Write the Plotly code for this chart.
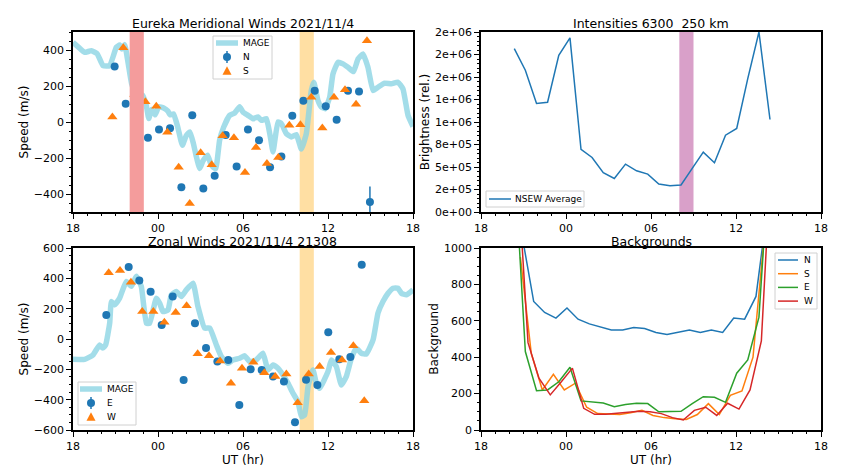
import plotly.graph_objects as go

# ---------------- data ----------------
# x positions in hours relative to 00 UT 2021/11/4 (-6 == 18 UT previous day)
XTICK_VALS = [-6, 0, 6, 12, 18]
XTICK_TEXT = ["18", "00", "06", "12", "18"]

# MAGE model meridional wind
mage_mer_t = [-6.0, -5.6, -5.18, -4.7, -4.3, -3.88, -3.41, -2.94, -2.7, -2.55, -2.35, -2.1, -1.86, -1.6,
              -1.39, -1.1, -0.85, -0.65, -0.45, -0.2, 0.05, 0.4, 0.7, 0.85, 1.1, 1.4, 1.72, 2.0, 2.25,
              2.5, 2.71, 2.94, 3.18, 3.5, 3.76, 4.07, 4.35, 4.64, 5.06, 5.41, 5.76, 6.0, 6.35, 6.71,
              7.06, 7.3, 7.65, 7.93, 8.12, 8.47, 8.71, 9.06, 9.41, 9.76, 10.12, 10.47, 10.82, 11.0,
              11.29, 11.53, 11.8, 12.12, 12.35, 12.71, 13.06, 13.41, 13.8, 14.12, 14.47, 14.82, 15.18,
              15.53, 16.0, 16.47, 16.94, 17.29, 17.65, 18.0]
mage_mer_v = [442, 415, 387, 396, 380, 313, 313, 415, 428, 405, 430, 323, 212, 160,
              147, 150, 100, 20, 70, 40, 85, 78, 60, 40, 45, -30, -129, -75, -55,
              -120, -194, -258, -215, -184, -240, -260, -101, -28, 37, 50, 85, 55, 37, 18,
              28, 9, 18, -83, -166, 0, -9, -65, -83, -70, -150, -65, 175, 221,
              120, 83, 74, 138, 267, 332, 323, 304, 280, 350, 378, 304, 175,
              193, 216, 212, 221, 184, 37, -25]

# Meridional winds: N and S
n_t = [-3.06, -2.28, -1.51, -0.71, 0.07, 0.85, 1.65, 2.42, 3.2, 4.0, 4.78, 5.55, 6.35, 7.13, 7.91,
       8.71, 9.48, 10.26, 11.06, 11.84, 12.61, 13.41, 14.19, 14.96]
n_v = [308, 101, 50, -87, -42, -35, -363, 37, -369, -299, -72, -247, -41, -101, -251,
       -192, 35, 118, 173, 87, 13, 173, 170, -444]
n_err = [15, 15, 15, 15, 15, 15, 15, 15, 15, 15, 15, 15, 15, 15, 15,
         15, 15, 15, 15, 15, 15, 15, 15, 85]
s_t = [-3.22, -2.45, -1.67, -0.89, -0.12, 0.66, 1.46, 2.24, 3.01, 3.79, 4.56, 5.36, 6.14, 6.92, 7.69,
       8.49, 9.27, 10.05, 10.82, 11.6, 12.42, 13.2, 13.98, 14.75]
s_v = [28, 413, 153, 112, 87, -57, -252, -453, -171, -238, -76, -87, -280, -142, -230,
       -197, -18, -15, 138, -33, 138, 179, 98, 452]

# MAGE model zonal wind
mage_zon_t = [-6.0, -5.18, -4.59, -4.12, -3.9, -3.7, -3.41, -3.29, -3.06, -2.71, -2.24, -1.88, -1.53,
              -1.18, -0.82, -0.59, -0.12, 0.12, 0.35, 0.71, 0.94, 1.29, 1.65, 2.0, 2.47, 2.82, 3.29,
              3.65, 4.12, 4.47, 4.94, 5.29, 5.76, 6.12, 6.47, 6.9, 7.41, 7.76, 8.12, 8.47, 8.82,
              9.18, 9.53, 9.88, 10.12, 10.35, 10.59, 10.94, 11.18, 11.41, 12.0, 12.24, 12.59, 12.94,
              13.29, 13.65, 14.0, 14.35, 14.7, 15.18, 15.53, 15.88, 16.24, 16.59, 16.94, 17.18,
              17.53, 18.0]
mage_zon_v = [-134, -134, -105, -39, -60, -40, 104, 247, 225, 269, 379, 347, 413,
              347, 104, 104, 269, 236, 181, 192, 291, 313, 280, 324, 368, 214, 72,
              72, -39, -116, -160, -138, -127, -111, -149, -140, -94, -204, -171, -193, -237,
              -292, -358, -413, -512, -501, -314, -204, -292, -325, -215, -138, -182, -303,
              -248, -127, -61, -94, -99, -6, 171, 247, 302, 335, 335, 302,
              291, 324]

# Zonal winds: E and W
e_t = [-3.65, -2.07, -1.32, -0.52, 0.26, 1.04, 1.81, 2.61, 3.39, 4.19, 4.96, 5.74, 6.54, 7.32, 8.12,
       8.89, 9.67, 10.45, 11.25, 12.02, 12.8, 13.58, 14.38]
e_v = [159, 474, 386, 311, 93, 280, -270, 104, -59, -149, -138, -435, -199, -204, -248,
       -281, -549, -268, -303, 45, -133, -118, 490]
e_err = [15] * 23
w_t = [-3.48, -2.68, -1.91, -1.11, -0.33, 0.45, 1.25, 2.02, 2.80, 3.6, 4.38, 5.15, 5.93, 6.73, 7.51,
       8.28, 9.06, 9.86, 10.64, 11.41, 12.21, 12.99, 13.79, 14.56]
w_v = [436, 451, 374, 182, 182, 111, 175, 219, -98, -111, -145, -292, -193, -154, -222,
       -248, -231, -420, -231, -182, -89, -138, -45, -407]

# Intensities 6300, NSEW average (also the E-direction exposure times)
avg_t = [-3.65, -2.87, -2.08, -1.3, -0.51, 0.28, 1.06, 1.84, 2.63, 3.41, 4.2, 4.98, 5.77, 6.55,
         7.34, 8.12, 8.91, 9.69, 10.48, 11.26, 12.05, 12.83, 13.62, 14.4]
avg_v = [1815000, 1575000, 1205000, 1220000, 1741000, 1934000, 695000, 606000, 436000, 373000,
         532000, 458000, 421000, 311000, 292000, 300000, 484000, 665000, 547000, 854000, 928000,
         1482000, 2000000, 1028000]
BRIGHT_TICKS = [0, 250000, 500000, 750000, 1000000, 1250000, 1500000, 1750000, 2000000]
BRIGHT_LABELS = ["0e+00", "2e+05", "5e+05", "8e+05", "1e+06", "1e+06", "2e+06", "2e+06", "2e+06"]

# Backgrounds
bg_n = [1050, 706, 646, 615, 670, 609, 583, 565, 550, 550, 563, 558, 536, 525, 538,
        550, 536, 550, 536, 615, 609, 734, 1200, 2000]
bg_s = [950, 420, 220, 306, 220, 257, 125, 90, 88, 85, 95, 108, 80, 68, 62,
        58, 85, 145, 85, 190, 215, 400, 1050, 2500]
bg_e = [1500, 431, 216, 220, 265, 345, 160, 155, 148, 128, 140, 147, 145, 100, 102,
        103, 145, 183, 180, 152, 312, 385, 620, 1550]
bg_w = [1500, 480, 285, 193, 265, 340, 119, 86, 86, 90, 98, 103, 100, 90, 68,
        55, 108, 125, 80, 147, 115, 220, 490, 1620]

# shaded time windows (hours)
red_band = [-2.0, -1.0]
orange_band = [10.0, 11.0]
pink_band = [8.0, 9.0]

# ---------------- figure ----------------
W, H = 848, 474
BLUE, ORANGE, GREEN, RED = "#1f77b4", "#ff7f0e", "#2ca02c", "#d62728"
MAGE_COLOR = "rgba(140,212,228,0.8)"
FONT = "DejaVu Sans"


def px_x(a, b):
    return [a / W, b / W]


def px_y(top, bottom):
    return [1 - bottom / H, 1 - top / H]


fig = go.Figure()

# --- top-left: meridional
fig.add_trace(go.Scatter(x=mage_mer_t, y=mage_mer_v, mode="lines", name="MAGE",
                         line=dict(color=MAGE_COLOR, width=5.5, shape="spline", smoothing=0.4),
                         xaxis="x", yaxis="y"))
fig.add_trace(go.Scatter(x=n_t, y=n_v, mode="markers", name="N",
                         marker=dict(color=BLUE, size=8, symbol="circle"),
                         error_y=dict(type="data", array=n_err, color=BLUE, thickness=1.5, width=0),
                         xaxis="x", yaxis="y"))
fig.add_trace(go.Scatter(x=s_t, y=s_v, mode="markers", name="S",
                         marker=dict(color=ORANGE, size=9, symbol="triangle-up"),
                         xaxis="x", yaxis="y"))

# --- top-right: intensities
fig.add_trace(go.Scatter(x=avg_t, y=avg_v, mode="lines", name="NSEW Average",
                         line=dict(color=BLUE, width=1.5),
                         xaxis="x2", yaxis="y2"))

# --- bottom-left: zonal
fig.add_trace(go.Scatter(x=mage_zon_t, y=mage_zon_v, mode="lines", name="MAGE",
                         line=dict(color=MAGE_COLOR, width=5.5, shape="spline", smoothing=0.4),
                         xaxis="x3", yaxis="y3"))
fig.add_trace(go.Scatter(x=e_t, y=e_v, mode="markers", name="E",
                         marker=dict(color=BLUE, size=8, symbol="circle"),
                         error_y=dict(type="data", array=e_err, color=BLUE, thickness=1.5, width=0),
                         xaxis="x3", yaxis="y3"))
fig.add_trace(go.Scatter(x=w_t, y=w_v, mode="markers", name="W",
                         marker=dict(color=ORANGE, size=9, symbol="triangle-up"),
                         xaxis="x3", yaxis="y3"))

# --- bottom-right: backgrounds
for name, t, v, c in [("N", n_t, bg_n, BLUE), ("S", s_t, bg_s, ORANGE),
                      ("E", avg_t, bg_e, GREEN), ("W", w_t, bg_w, RED)]:
    fig.add_trace(go.Scatter(x=t, y=v, mode="lines", name=name,
                             line=dict(color=c, width=1.5),
                             xaxis="x4", yaxis="y4"))

# shaded bands
fig.add_shape(type="rect", xref="x", yref="y domain", x0=red_band[0], x1=red_band[1], y0=0, y1=1,
              fillcolor="#f49c9c", line_width=0, layer="above")
fig.add_shape(type="rect", xref="x", yref="y domain", x0=orange_band[0], x1=orange_band[1], y0=0, y1=1,
              fillcolor="rgba(255,165,0,0.36)", line_width=0, layer="below")
fig.add_shape(type="rect", xref="x3", yref="y3 domain", x0=orange_band[0], x1=orange_band[1], y0=0, y1=1,
              fillcolor="rgba(255,165,0,0.36)", line_width=0, layer="below")
fig.add_shape(type="rect", xref="x2", yref="y2 domain", x0=pink_band[0], x1=pink_band[1], y0=0, y1=1,
              fillcolor="#d9a0c9", line_width=0, layer="below")

tickfont = dict(family=FONT, size=11, color="black")
titlefont = dict(family=FONT, size=12, color="black")


def xaxis(dom, anchor, title=None):
    d = dict(domain=dom, anchor=anchor, range=[-6, 18], tickvals=XTICK_VALS, ticktext=XTICK_TEXT,
             showline=True, linecolor="black", linewidth=1.5, mirror=True, automargin=False,
             ticks="outside", ticklen=5, tickwidth=1.2, tickcolor="black",
             minor=dict(dtick=1, tick0=0, ticks="outside", ticklen=2.5, tickcolor="black", tickwidth=1),
             showgrid=False, zeroline=False, tickfont=tickfont)
    if title:
        d["title"] = dict(text=title, font=titlefont, standoff=4)
    return d


def yaxis(dom, anchor, rng, title, dtick=None, minor=50, tickvals=None, ticktext=None):
    d = dict(domain=dom, anchor=anchor, range=rng,
             showline=True, linecolor="black", linewidth=1.5, mirror=True, automargin=False,
             ticks="outside", ticklen=5, tickwidth=1.2, tickcolor="black",
             minor=dict(dtick=minor, tick0=0, ticks="outside", ticklen=2.5, tickcolor="black", tickwidth=1),
             showgrid=False, zeroline=False, tickfont=tickfont,
             title=dict(text=title, font=titlefont, standoff=3))
    if tickvals is not None:
        d["tickvals"] = tickvals
        d["ticktext"] = ticktext
    else:
        d["dtick"] = dtick
        d["tick0"] = 0
    return d


XL = px_x(73, 413)
XR = px_x(481, 821)
YT = px_y(32, 212)
YB = px_y(248, 430)

fig.update_layout(
    width=W, height=H, margin=dict(l=0, r=0, t=0, b=0, autoexpand=False),
    paper_bgcolor="white", plot_bgcolor="white",
    font=dict(family=FONT, color="black"),
    xaxis=xaxis(XL, "y"),
    yaxis=yaxis(YT, "x", [-500, 500], "Speed (m/s)", dtick=200),
    xaxis2=xaxis(XR, "y2"),
    yaxis2=yaxis(YT, "x2", [0, 2000000], "Brightness (rel.)", minor=50000,
                 tickvals=BRIGHT_TICKS, ticktext=BRIGHT_LABELS),
    xaxis3=xaxis(XL, "y3", "UT (hr)"),
    yaxis3=yaxis(YB, "x3", [-600, 600], "Speed (m/s)", dtick=200),
    xaxis4=xaxis(XR, "y4", "UT (hr)"),
    yaxis4=yaxis(YB, "x4", [0, 1000], "Background", dtick=200),
    showlegend=False,
)

titles = [("Eureka Meridional Winds 2021/11/4", (73 + 413) / 2, 32, 0),
          ("Intensities 6300  250 km", (481 + 821) / 2, 32, 0),
          ("Zonal Winds 2021/11/4 21308", (73 + 413) / 2, 248, -2),
          ("Backgrounds", (481 + 821) / 2, 248, -2)]
for text, cx, top, ys in titles:
    fig.add_annotation(text=text, x=cx / W, y=1 - top / H, xref="paper", yref="paper",
                       xanchor="center", yanchor="bottom", yshift=ys, borderpad=0, showarrow=False,
                       font=dict(family=FONT, size=12.5, color="black"))

# ---------------- legends (drawn in pixel coordinates of the page) ----------------
LEG_FONT = dict(family=FONT, size=9, color="black")


def leg_box(x0, y0, x1, y1):
    fig.add_shape(type="rect", xref="paper", yref="paper", x0=x0 / W, x1=x1 / W,
                  y0=1 - y1 / H, y1=1 - y0 / H, fillcolor="rgba(255,255,255,0.85)",
                  line=dict(color="#d0d0d0", width=1), layer="above")


def leg_line(x0, x1, y, color, width):
    fig.add_shape(type="line", xref="paper", yref="paper", x0=x0 / W, x1=x1 / W,
                  y0=1 - y / H, y1=1 - y / H, line=dict(color=color, width=width), layer="above")


def leg_text(x, y, text):
    fig.add_annotation(text=text, x=x / W, y=1 - y / H, xref="paper", yref="paper",
                       xanchor="left", yanchor="middle", showarrow=False, font=LEG_FONT)


def leg_marker(x, y, kind, color):
    if kind == "circle":
        fig.add_shape(type="line", xref="paper", yref="paper", x0=x / W, x1=x / W,
                      y0=1 - (y + 6) / H, y1=1 - (y - 6) / H, line=dict(color=color, width=1.5),
                      layer="above")
        fig.add_shape(type="circle", xref="paper", yref="paper", x0=(x - 4) / W, x1=(x + 4) / W,
                      y0=1 - (y + 4) / H, y1=1 - (y - 4) / H, fillcolor=color, line_width=0,
                      layer="above")
    else:
        fig.add_shape(type="path", xref="paper", yref="paper",
                      path="M {} {} L {} {} L {} {} Z".format((x - 4.5) / W, 1 - (y + 3.8) / H,
                                                             (x + 4.5) / W, 1 - (y + 3.8) / H,
                                                             x / W, 1 - (y - 4.8) / H),
                      fillcolor=color, line_width=0, layer="above")


# top-left
leg_box(213, 36, 272, 79)
leg_line(216, 238, 43, MAGE_COLOR, 5.5)
leg_text(241, 43, "MAGE")
leg_marker(227, 57, "circle", BLUE)
leg_text(241, 57, "N")
leg_marker(227, 71, "tri", ORANGE)
leg_text(241, 71, "S")

# bottom-left
leg_box(78, 382, 136, 425)
leg_line(80, 102, 389, MAGE_COLOR, 5.5)
leg_text(105, 389, "MAGE")
leg_marker(91, 403, "circle", BLUE)
leg_text(105, 403, "E")
leg_marker(91, 417, "tri", ORANGE)
leg_text(105, 417, "W")

# top-right
leg_box(486, 191, 584, 207)
leg_line(489, 511, 199, BLUE, 1.5)
leg_text(513, 199, "NSEW Average")

# bottom-right
leg_box(775, 253, 817, 309)
for i, (name, c) in enumerate([("N", BLUE), ("S", ORANGE), ("E", GREEN), ("W", RED)]):
    yy = 260 + i * 13.7
    leg_line(778, 798, yy, c, 1.5)
    leg_text(802, yy, name)

# the page body has a default 8px margin; remove it so the figure fills the window exactly
fig.write_html("out.html", config={"displayModeBar": False},
               post_script="document.body.style.margin='0';document.body.style.overflow='hidden';")
